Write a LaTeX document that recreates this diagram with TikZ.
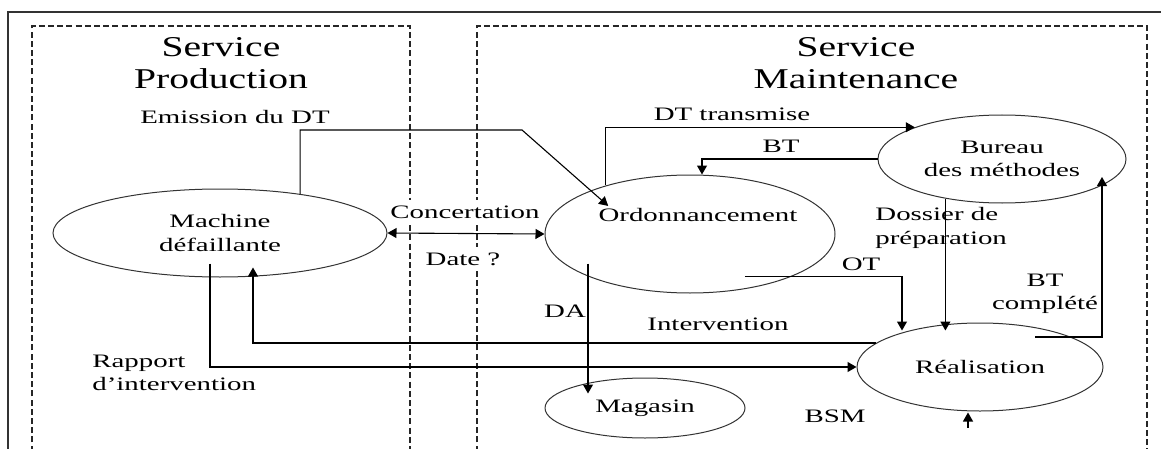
\documentclass[tikz,border=0pt]{standalone}
\usepackage{fontspec}
\setmainfont{Liberation Serif}
\newfontfamily\flowfont[FakeStretch=1.52]{Liberation Serif}
\newfontfamily\zonefont[FakeStretch=1.38]{Liberation Serif}
\usetikzlibrary{arrows.meta,positioning,shapes.geometric}
\tikzset{
    flow diagram/.style = {x=0.5pt, y=-0.5pt,
                           >={Triangle[length=4.5pt, width=5pt]}},
    frame/.style        = {draw=black!80, line width=0.9pt},
    zone/.style         = {draw=black!85, line width=0.55pt,
                           dash pattern=on 3pt off 1.6pt},
    proc/.style         = {draw=black!80, ellipse, line width=0.5pt,
                           inner sep=0pt, align=center,
                           font=\flowfont\fontsize{9.5}{11.75}\selectfont},
    lbl/.style          = {inner sep=1pt,
                           font=\flowfont\fontsize{9.5}{11.75}\selectfont},
    gap/.style          = {lbl, fill=white, inner sep=3pt},
    ttl/.style          = {align=center,
                           font=\zonefont\fontsize{14.35}{16}\selectfont},
    line/.style         = {line width=0.55pt}
}

\begin{document}
\begin{tikzpicture}[flow diagram]
\clip (0,0) rectangle (1161,449);

% Frame and the two services.
\draw[frame] (8,470) -- (8,12) -- (1175,12);
\draw[zone] (32,470) |- (410,26) -- (410,470);
\draw[zone] (477,470) |- (1147,26) -- (1147,470);
\node[ttl] (prod) at (221,63) {Service\\Production};
\node[ttl] (maint) at (856,63) {Service\\Maintenance};

% Processes.
\foreach \name/\x/\y/\rx/\ry/\txt in {
    mach/220/233/167/44/{Machine\\défaillante},
    bur/1002/159/124/44/{Bureau\\des méthodes},
    real/980/367/123/44/{Réalisation},
    mag/645/408/100/30/{Magasin}} {
    \node[proc, minimum width=\rx pt, minimum height=\ry pt] (\name) at (\x,\y) {\txt};
}
\node[proc, minimum width=145pt, minimum height=59pt] (ord) at (690,234) {};
\node[lbl] (ordtxt) at (698,215) {Ordonnancement};

% Flow labels.
\node[lbl] (emis) at (235,117) {Emission du DT};
\node[gap] (conc) at (465,212) {Concertation};
\node[gap] (date) at (463,259) {Date ?};
\node[lbl] (dtt) at (732,114) {DT transmise};
\node[lbl] (bt) at (781,146) {BT};
\node[lbl, align=left, anchor=west] (doss) at (873,228) {Dossier de\\préparation};
\node[lbl] (ot) at (861,264) {OT};
\node[lbl] (da) at (565,311) {DA};
\node[lbl] (interv) at (718,324) {Intervention};
\node[lbl, align=center] (btc) at (1045,294) {BT\\complété};
\node[lbl, align=left, anchor=west] (rapp) at (90,373) {Rapport\\d’intervention};
\node[lbl] (bsm) at (835,416) {BSM};

% Points where the flows leave or enter the processes.
\coordinate (emis-bend) at (522,130);
\coordinate (ot-out) at ([xshift=-24pt]ord.south east);
\coordinate (ot-in) at ([xshift=-39pt,yshift=-4pt]real.north);
\coordinate (doss-in) at ([yshift=-4pt]real.north);
\coordinate (interv-in) at ([xshift=16.5pt,yshift=5pt]mach.south);
\coordinate (rapp-out) at ([xshift=-5pt,yshift=7pt]mach.south);
\coordinate (da-out) at ([xshift=-51pt,yshift=15pt]ord.south);
\coordinate (da-in) at ([yshift=-8pt]mag.north);
\coordinate (btc-out) at ([xshift=27.5pt,yshift=15pt]real.center);
\coordinate (btc-in) at ([xshift=50pt,yshift=-9pt]bur.center);
\coordinate (bsm-out) at ([xshift=-6pt,yshift=-8pt]real.south);
\coordinate (bsm-in) at ([xshift=-6pt,yshift=-0.5pt]real.south);

% Flows.
\draw[->, line] (mach.26) |- (emis-bend) -- ([xshift=6pt]ordtxt.north west);
\draw[<->, line] (mach.east) -- (ord.west);
\draw[->, line] (ord.150) |- (bur.160);
\draw[->, line] (bur.west) -| ([xshift=6pt]ord.north);
\draw[->, line] (bur.215) -- (bur.215 |- doss-in);
\draw[->, line] (ot-out) -| (ot-in);
\draw[->, line] (real.167) -| (interv-in);
\draw[->, line] (rapp-out) |- (real.west);
\draw[->, line] (da-out) -- (da-out |- da-in);
\draw[->, line] (btc-out) -| (btc-in);
\draw[->, line] (bsm-out) -- (bsm-in);

\end{tikzpicture}
\end{document}
